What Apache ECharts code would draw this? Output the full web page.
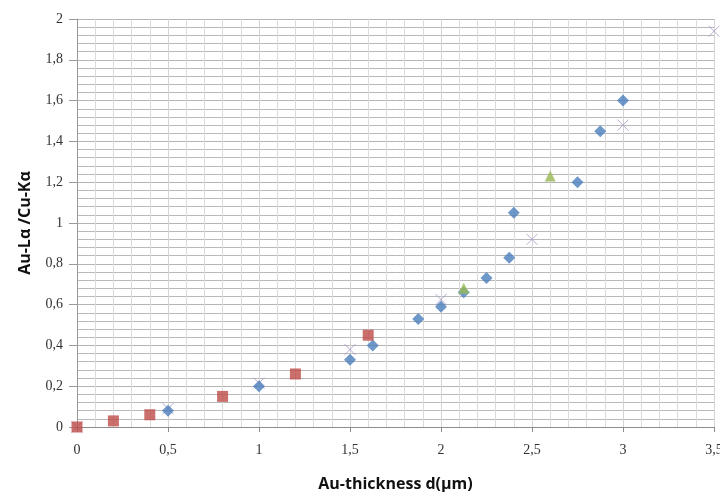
<!DOCTYPE html>
<html>
<head>
<meta charset="utf-8">
<script src="https://cdn.jsdelivr.net/npm/echarts@6/dist/echarts.min.js"></script>
<style>html,body{margin:0;padding:0;background:#fff}#c{width:720px;height:492px}</style>
</head>
<body>
<div id="c"></div>
<script>
// Data
const blueSeries = [[0.5,0.08],[1,0.2],[1.5,0.33],[1.625,0.40],[1.875,0.53],[2,0.59],[2.125,0.66],[2.25,0.73],[2.375,0.83],[2.4,1.05],[2.75,1.2],[2.875,1.45],[3,1.6]];
const redSeries = [[0,0],[0.2,0.03],[0.4,0.06],[0.8,0.15],[1.2,0.26],[1.6,0.45]];
const greenSeries = [[2.125,0.68],[2.6,1.23]];
const purpleSeries = [[0,0],[0.5,0.09],[1,0.215],[1.5,0.38],[2,0.625],[2.5,0.92],[3,1.48],[3.5,1.94]];
const xName = 'Au-thickness d(µm)';
const yName = 'Au-Lα /Cu-Kα';

const fmt = v => String(Math.round(v * 10) / 10).replace('.', ',');
const chart = echarts.init(document.getElementById('c'), null, {renderer: 'canvas'});
chart.setOption({
  animation: false,
  backgroundColor: '#fff',
  grid: {left: 77, right: 6, top: 19, bottom: 65, containLabel: false, outerBoundsMode: 'none'},
  xAxis: {
    type: 'value', min: 0, max: 3.5, interval: 0.5,
    name: xName, nameLocation: 'middle', nameGap: 49,
    nameTextStyle: {fontFamily: 'Open Sans', fontWeight: 'bold', fontSize: 16, color: '#111'},
    axisLine: {show: true, lineStyle: {color: '#8c8c8c', width: 1}},
    axisTick: {show: true, length: 5, lineStyle: {color: '#8c8c8c'}},
    axisLabel: {formatter: fmt, margin: 16, fontFamily: 'Liberation Serif', fontSize: 14, color: '#333'},
    splitLine: {show: true, lineStyle: {color: '#d4d4d4', width: 1}},
    minorTick: {show: false, splitNumber: 5},
    minorSplitLine: {show: true, lineStyle: {color: '#dadada', width: 1}}
  },
  yAxis: {
    type: 'value', min: 0, max: 2, interval: 0.2,
    name: yName, nameLocation: 'middle', nameGap: 44, nameRotate: 90,
    nameTextStyle: {fontFamily: 'Open Sans', fontWeight: 'bold', fontSize: 16, color: '#111'},
    axisLine: {show: true, lineStyle: {color: '#999', width: 1}},
    axisTick: {show: true, length: 8, lineStyle: {color: '#999'}},
    axisLabel: {formatter: fmt, margin: 14, fontFamily: 'Liberation Serif', fontSize: 14, color: '#333'},
    splitLine: {show: true, lineStyle: {color: '#b4b4b4', width: 1}},
    minorTick: {show: false, splitNumber: 5},
    minorSplitLine: {show: true, lineStyle: {color: '#b8b8b8', width: 1}}
  },
  series: [
    {type: 'scatter', name: 'purple', data: purpleSeries, symbol: 'path://M0,0L10,10M10,0L0,10', symbolSize: 11,
     itemStyle: {color: 'rgba(0,0,0,0)', borderColor: '#a996c8', borderWidth: 1}, z: 2},
    {type: 'scatter', name: 'blue', data: blueSeries, symbol: 'diamond', symbolSize: 12,
     itemStyle: {color: '#4a7ebb'}, z: 3},
    {type: 'scatter', name: 'green', data: greenSeries, symbol: 'triangle', symbolSize: 11,
     itemStyle: {color: '#98b954'}, z: 4},
    {type: 'scatter', name: 'red', data: redSeries, symbol: 'rect', symbolSize: 11,
     itemStyle: {color: '#be4b48'}, z: 5}
  ]
});
</script>
</body>
</html>
